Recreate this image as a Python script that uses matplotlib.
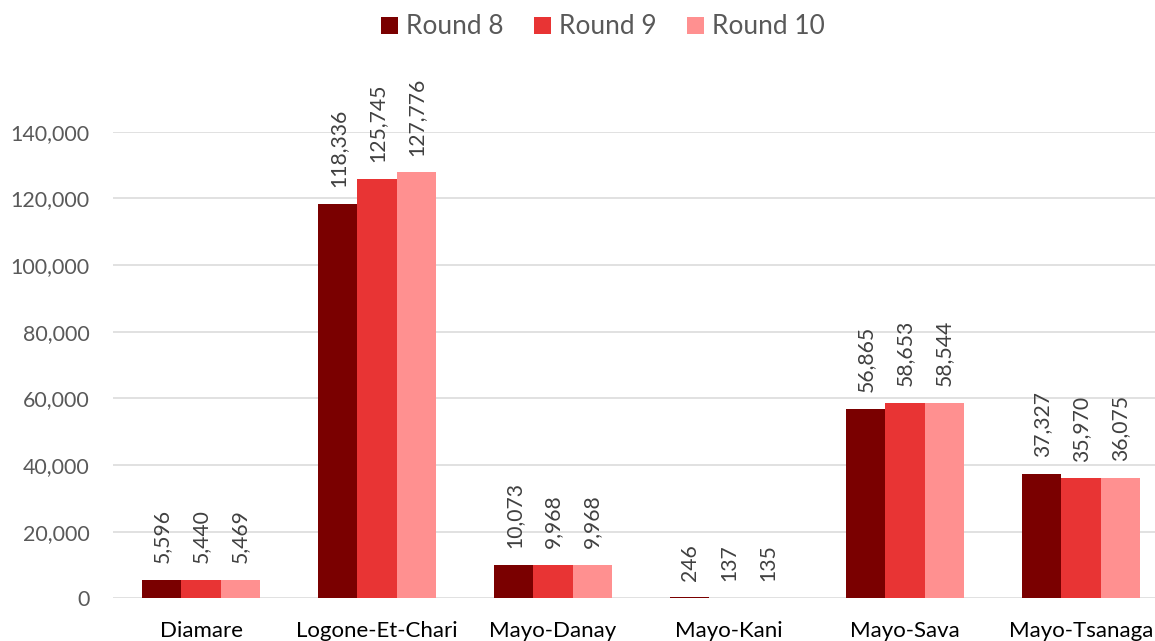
import matplotlib
matplotlib.use("Agg")
import matplotlib.pyplot as plt
from matplotlib.ticker import FuncFormatter, MultipleLocator
import numpy as np

plt.rcParams['font.family'] = ['Lato', 'DejaVu Sans']

categories = ["Diamare", "Logone-Et-Chari", "Mayo-Danay", "Mayo-Kani", "Mayo-Sava", "Mayo-Tsanaga"]
series_names = ["Round 8", "Round 9", "Round 10"]
round8 = [5596, 118336, 10073, 246, 56865, 37327]
round9 = [5440, 125745, 9968, 137, 58653, 35970]
round10 = [5469, 127776, 9968, 135, 58544, 36075]
colors = ["#7A0000", "#E83434", "#FF9090"]

W, H = 1155, 641
fig = plt.figure(figsize=(W / 100, H / 100), dpi=100)
left, right = 113 / W, 1169 / W
bottom, top = (H - 598.3) / H, (H - 131.6) / H
ax = fig.add_axes([left, bottom, right - left, top - bottom])

x = np.arange(len(categories))
bw = 0.222
handles = []
for j, (vals, col, name) in enumerate(zip([round8, round9, round10], colors, series_names)):
    bars = ax.bar(x + (j - 1) * bw, vals, width=bw, color=col, label=name, zorder=3)
    handles.append(bars)
    for b, v in zip(bars, vals):
        ax.annotate(f"{v:,}", (b.get_x() + b.get_width() / 2, v),
                    xytext=(0, 12), textcoords="offset points",
                    rotation=90, ha="center", va="bottom",
                    fontsize=15.2, color="#404040", annotation_clip=False)

ax.set_xlim(-0.5, len(categories) - 0.5)
ax.set_ylim(0, 140000)
ax.yaxis.set_major_locator(MultipleLocator(20000))
ax.yaxis.set_major_formatter(FuncFormatter(lambda v, p: f"{int(v):,}"))
ax.grid(axis="y", color="#D9D9D9", linewidth=1.1, zorder=0)
ax.set_axisbelow(True)
for s in ax.spines.values():
    s.set_visible(False)
ax.set_xticks(x)
ax.set_xticklabels(categories)
ax.tick_params(axis="x", length=0, pad=16, labelsize=16, labelcolor="#000000")
ax.tick_params(axis="y", length=0, pad=17, labelsize=15.4, labelcolor="#595959")

fig.legend(handles=handles, labels=series_names, loc="center",
           bbox_to_anchor=(603 / W, 1 - 27 / H), ncol=3, frameon=False,
           fontsize=18.9, labelcolor="#595959", handlelength=0.64,
           handleheight=0.64, handletextpad=0.3, columnspacing=1.17)

fig.savefig("out.png", dpi=100)
